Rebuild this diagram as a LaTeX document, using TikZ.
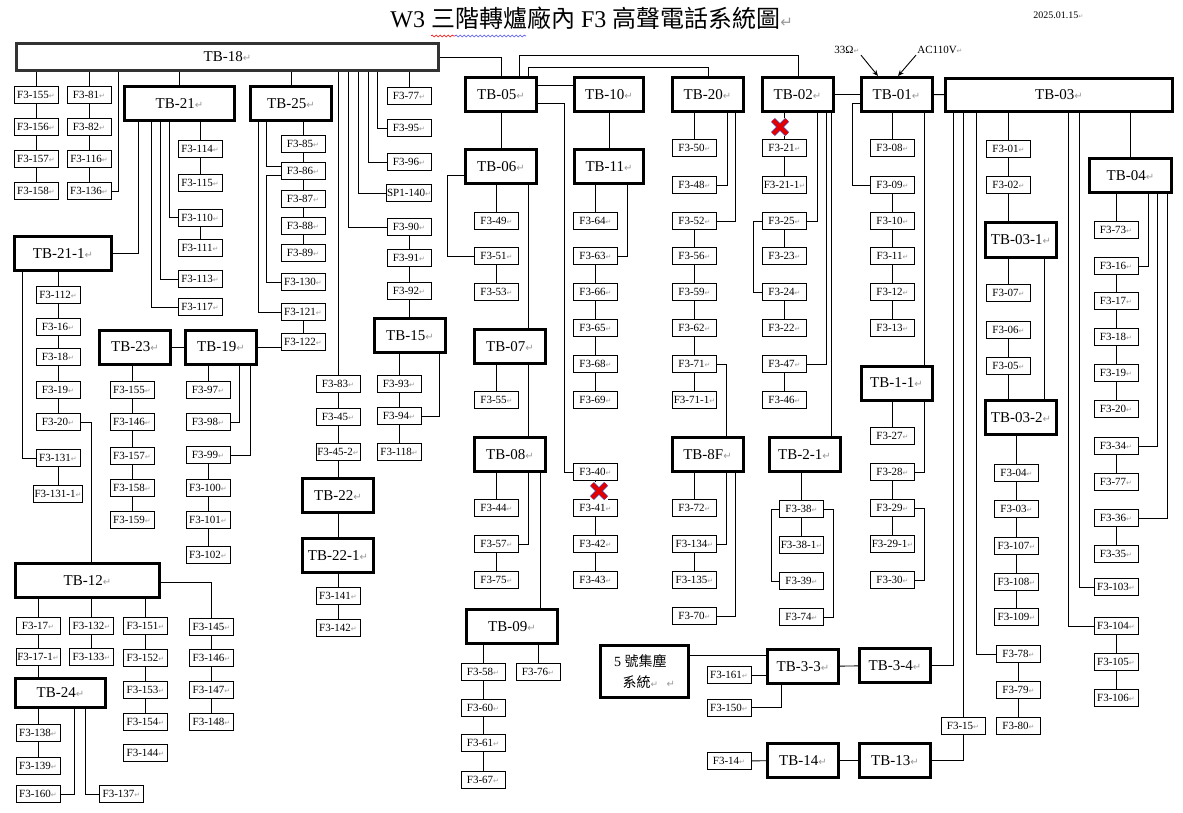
\documentclass[tikz,border=0pt]{standalone}
\usepackage{fontspec}
\setmainfont{Liberation Serif}
\newfontfamily\cjk{Noto Sans CJK TC}
\newfontfamily\symfont{DejaVu Sans}
\usetikzlibrary{arrows.meta,decorations.pathmorphing}
\newcommand\parmark[1]{{\symfont\fontsize{#1}{#1}\selectfont\color{gray!80}↵}}
\begin{document}
\begin{tikzpicture}[x=1pt, y=-1pt, line width=0.9pt,
  fbox/.style={draw, line width=0.8pt, minimum width=44pt, minimum height=17pt, inner sep=1pt,
    font=\fontsize{11}{11}\selectfont, execute at end node={\parmark{7pt}}},
  tb/.style={draw, line width=3pt, minimum width=71pt, minimum height=34pt, inner sep=1pt,
    font=\fontsize{15}{15}\selectfont, execute at end node={\parmark{10pt}}},
  lbl/.style={inner sep=1pt, font=\fontsize{11}{11}\selectfont, execute at end node={\parmark{7pt}}},
  xout/.style={line width=4pt, red!90!black}]
  \useasboundingbox (0,0) rectangle (1183,813);
  % 標題
  \node[anchor=west, inner sep=0pt, font=\fontsize{24}{24}\selectfont] (title) at (390,18)
    {W3 {\cjk 三階轉爐廠內} F3 {\cjk 高聲電話系統圖}\parmark{15pt}};
  \node[anchor=west, inner sep=0pt, font=\fontsize{10}{10}\selectfont] (date) at (1033,15) {2025.01.15\parmark{6pt}};
  \draw[red, line width=0.6pt, decorate, decoration={snake, amplitude=1pt, segment length=4pt}] (431,36) -- (455,36);
  \draw[blue!70, line width=0.6pt, decorate, decoration={snake, amplitude=1pt, segment length=4pt}] (455,36) -- (526,36);
  % 端子台
  \node[tb, draw=black!80, minimum width=422pt, minimum height=27pt] (tb18) at (227.5,57) {TB-18};
  \node[tb, minimum width=110pt] (tb21) at (179.5,103.5) {TB-21};
  \node[tb, minimum width=81pt] (tb25) at (291,103.5) {TB-25};
  \node[tb, minimum width=97pt] (tb21x1) at (63,253.5) {TB-21-1};
  \node[tb] (tb23) at (135,347) {TB-23}; \node[tb] (tb19) at (221,347) {TB-19};
  \node[tb] (tb15) at (410,335.5) {TB-15};
  \node[tb] (tb22) at (338,495.5) {TB-22}; \node[tb] (tb22x1) at (338,555.5) {TB-22-1};
  \node[tb, minimum width=144pt] (tb12) at (87.5,580.5) {TB-12};
  \node[tb, minimum width=90pt, minimum height=29pt] (tb24) at (60.5,693) {TB-24};
  \node[tb] (tb05) at (501,94.5) {TB-05}; \node[tb] (tb06) at (501,167) {TB-06};
  \node[tb] (tb07) at (510,346.5) {TB-07}; \node[tb] (tb08) at (510,454.5) {TB-08};
  \node[tb, minimum width=91pt] (tb09) at (512,626.5) {TB-09};
  \node[tb, minimum width=69pt] (tb10) at (609,94.5) {TB-10}; \node[tb, minimum width=69pt] (tb11) at (609,167) {TB-11};
  \node[tb] (tb20) at (707.5,94.5) {TB-20}; \node[tb] (tb8f) at (707.5,454.5) {TB-8F};
  \node[tb] (tb02) at (797.5,94.5) {TB-02}; \node[tb] (tb2x1) at (804.5,454.5) {TB-2-1};
  \node[tb] (tb01) at (896.5,94.5) {TB-01}; \node[tb] (tb1x1) at (896.5,383) {TB-1-1};
  \node[tb, minimum width=227pt, minimum height=33pt] (tb03) at (1059,95) {TB-03};
  \node[tb, minimum width=82pt] (tb04) at (1130.5,175.5) {TB-04};
  \node[tb] (tb03x1) at (1021,240) {TB-03-1}; \node[tb] (tb03x2) at (1021,417.5) {TB-03-2};
  \node[tb] (tb3x3) at (803,666.5) {TB-3-3}; \node[tb] (tb3x4) at (895,665.5) {TB-3-4};
  \node[tb] (tb14) at (803,760.5) {TB-14}; \node[tb] (tb13) at (895,760.5) {TB-13};
  \node[tb, minimum width=88pt, minimum height=52pt, align=center, execute at end node={},
    font=\fontsize{14}{21}\selectfont] (dust) at (644.5,671.5) {5 {\cjk 號集塵}\\{\cjk 系統}\parmark{9pt}};
  % TB-18 下
  \node[fbox] (f155) at (36,94.5) {F3-155}; \node[fbox] (f156) at (36,126.5) {F3-156};
  \node[fbox] (f157) at (36,159) {F3-157}; \node[fbox] (f158) at (36,191) {F3-158};
  \node[fbox] (f81) at (89,94.5) {F3-81}; \node[fbox] (f82) at (89,126.5) {F3-82};
  \node[fbox] (f116) at (89,159) {F3-116}; \node[fbox] (f136) at (89,191) {F3-136};
  \node[fbox] (f114) at (200,149) {F3-114}; \node[fbox] (f115) at (200,183) {F3-115};
  \node[fbox] (f110) at (200,217.5) {F3-110}; \node[fbox] (f111) at (200,248) {F3-111};
  \node[fbox] (f113) at (200,279) {F3-113}; \node[fbox] (f117) at (200,307) {F3-117};
  \node[fbox] (f85) at (303,144) {F3-85}; \node[fbox] (f86) at (303,171) {F3-86};
  \node[fbox] (f87) at (303,199) {F3-87}; \node[fbox] (f88) at (303,226) {F3-88};
  \node[fbox] (f89) at (303,253) {F3-89}; \node[fbox] (f130) at (303,282) {F3-130};
  \node[fbox] (f121) at (303,312) {F3-121}; \node[fbox] (f122) at (303,342) {F3-122};
  \node[fbox] (f77) at (409,96) {F3-77}; \node[fbox] (f95) at (409,128) {F3-95};
  \node[fbox] (f96) at (409,162) {F3-96}; \node[fbox] (sp140) at (409,193) {SP1-140};
  \node[fbox] (f90) at (409,227) {F3-90}; \node[fbox] (f91) at (409,258) {F3-91};
  \node[fbox] (f92) at (409,291) {F3-92};
  \node[fbox] (f93) at (399,384) {F3-93}; \node[fbox] (f94) at (399,416) {F3-94};
  \node[fbox] (f118) at (399,452) {F3-118};
  \node[fbox] (f83) at (338,383.5) {F3-83}; \node[fbox] (f45) at (338,417) {F3-45};
  \node[fbox] (f452) at (338,452) {F3-45-2};
  \node[fbox] (f141) at (338,596) {F3-141}; \node[fbox] (f142) at (338,628) {F3-142};
  % TB-21-1, TB-23, TB-19
  \node[fbox] (f112) at (58,295) {F3-112}; \node[fbox] (f16) at (58,327) {F3-16};
  \node[fbox] (f18) at (58,357) {F3-18}; \node[fbox] (f19) at (58,390) {F3-19};
  \node[fbox] (f20) at (58,422) {F3-20}; \node[fbox] (f131) at (58,458) {F3-131};
  \node[fbox] (f1311) at (58,494) {F3-131-1};
  \node[fbox] (f155b) at (132,390) {F3-155}; \node[fbox] (f146) at (132,422) {F3-146};
  \node[fbox] (f157b) at (132,456) {F3-157}; \node[fbox] (f158b) at (132,488) {F3-158};
  \node[fbox] (f159) at (132,520) {F3-159};
  \node[fbox] (f97) at (208,390) {F3-97}; \node[fbox] (f98) at (208,422) {F3-98};
  \node[fbox] (f99) at (208,455) {F3-99}; \node[fbox] (f100) at (208,488) {F3-100};
  \node[fbox] (f101) at (208,520) {F3-101}; \node[fbox] (f102) at (208,555) {F3-102};
  % TB-12, TB-24
  \node[fbox] (f17) at (38,626) {F3-17}; \node[fbox] (f171) at (38,657) {F3-17-1};
  \node[fbox] (f132) at (91.5,626) {F3-132}; \node[fbox] (f133) at (91.5,657) {F3-133};
  \node[fbox] (f151) at (145.5,626) {F3-151}; \node[fbox] (f152) at (145.5,658) {F3-152};
  \node[fbox] (f153) at (145.5,690) {F3-153}; \node[fbox] (f154) at (145.5,722) {F3-154};
  \node[fbox] (f144) at (145.5,753) {F3-144};
  \node[fbox] (f145) at (211.5,627) {F3-145}; \node[fbox] (f146b) at (211.5,658) {F3-146};
  \node[fbox] (f147) at (211.5,690) {F3-147}; \node[fbox] (f148) at (211.5,722) {F3-148};
  \node[fbox] (f138) at (38,733) {F3-138}; \node[fbox] (f139) at (38,766) {F3-139};
  \node[fbox] (f160) at (38,794) {F3-160}; \node[fbox] (f137) at (121.5,794) {F3-137};
  % TB-05 .. TB-09
  \node[fbox] (f49) at (496.5,221) {F3-49}; \node[fbox] (f51) at (496.5,256) {F3-51};
  \node[fbox] (f53) at (496.5,292) {F3-53}; \node[fbox] (f55) at (496.5,400) {F3-55};
  \node[fbox] (f44) at (496.5,508) {F3-44}; \node[fbox] (f57) at (496.5,544) {F3-57};
  \node[fbox] (f75) at (496.5,580) {F3-75};
  \node[fbox] (f58) at (483,671.5) {F3-58}; \node[fbox] (f76) at (538,671.5) {F3-76};
  \node[fbox] (f60) at (483,707.5) {F3-60}; \node[fbox] (f61) at (483,743) {F3-61};
  \node[fbox] (f67) at (483,779.5) {F3-67};
  % TB-10, TB-11
  \node[fbox] (f64) at (595.5,221) {F3-64}; \node[fbox] (f63) at (595.5,256) {F3-63};
  \node[fbox] (f66) at (595.5,292) {F3-66}; \node[fbox] (f65) at (595.5,328) {F3-65};
  \node[fbox] (f68) at (595.5,364) {F3-68}; \node[fbox] (f69) at (595.5,400) {F3-69};
  \node[fbox] (f40) at (595.5,472) {F3-40}; \node[fbox] (f41) at (595.5,508) {F3-41};
  \node[fbox] (f42) at (595.5,544) {F3-42}; \node[fbox] (f43) at (595.5,580) {F3-43};
  % TB-20, TB-8F
  \node[fbox] (f50) at (694.5,148) {F3-50}; \node[fbox] (f48) at (694.5,185) {F3-48};
  \node[fbox] (f52) at (694.5,221) {F3-52}; \node[fbox] (f56) at (694.5,256) {F3-56};
  \node[fbox] (f59) at (694.5,292) {F3-59}; \node[fbox] (f62) at (694.5,328) {F3-62};
  \node[fbox] (f71) at (694.5,364) {F3-71}; \node[fbox] (f711) at (694.5,400) {F3-71-1};
  \node[fbox] (f72) at (694.5,508) {F3-72}; \node[fbox] (f134) at (694.5,544) {F3-134};
  \node[fbox] (f135) at (694.5,580) {F3-135}; \node[fbox] (f70) at (694.5,616) {F3-70};
  % TB-02, TB-2-1
  \node[fbox] (f21) at (784.5,148) {F3-21}; \node[fbox] (f211) at (784.5,185) {F3-21-1};
  \node[fbox] (f25) at (784.5,221) {F3-25}; \node[fbox] (f23) at (784.5,256) {F3-23};
  \node[fbox] (f24) at (784.5,292) {F3-24}; \node[fbox] (f22) at (784.5,328) {F3-22};
  \node[fbox] (f47) at (784.5,364) {F3-47}; \node[fbox] (f46) at (784.5,400) {F3-46};
  \node[fbox] (f38) at (801.5,509) {F3-38}; \node[fbox] (f381) at (801.5,545) {F3-38-1};
  \node[fbox] (f39) at (801.5,581) {F3-39}; \node[fbox] (f74) at (801.5,617) {F3-74};
  \node[fbox] (f161) at (729,675) {F3-161}; \node[fbox] (f150) at (729,707.5) {F3-150};
  \node[fbox] (f14) at (729,761) {F3-14};
  % TB-01, TB-1-1
  \node[fbox] (f08) at (892.5,148) {F3-08}; \node[fbox] (f09) at (892.5,185) {F3-09};
  \node[fbox] (f10) at (892.5,221) {F3-10}; \node[fbox] (f11) at (892.5,256) {F3-11};
  \node[fbox] (f12) at (892.5,292) {F3-12}; \node[fbox] (f13) at (892.5,328) {F3-13};
  \node[fbox] (f27) at (892.5,436) {F3-27}; \node[fbox] (f28) at (892.5,472) {F3-28};
  \node[fbox] (f29) at (892.5,508) {F3-29}; \node[fbox] (f291) at (892.5,544) {F3-29-1};
  \node[fbox] (f30) at (892.5,580) {F3-30};
  \node[fbox] (f15) at (963,726) {F3-15};
  % TB-03, TB-04
  \node[fbox] (f01) at (1008.5,149) {F3-01}; \node[fbox] (f02) at (1008.5,185) {F3-02};
  \node[fbox] (f07) at (1008.5,293) {F3-07}; \node[fbox] (f06) at (1008.5,330) {F3-06};
  \node[fbox] (f05) at (1008.5,366) {F3-05};
  \node[fbox] (f04) at (1016.5,473) {F3-04}; \node[fbox] (f03) at (1016.5,509) {F3-03};
  \node[fbox] (f107) at (1016.5,546) {F3-107}; \node[fbox] (f108) at (1016.5,582) {F3-108};
  \node[fbox] (f109) at (1016.5,617) {F3-109};
  \node[fbox] (f78) at (1018.5,654) {F3-78}; \node[fbox] (f79) at (1018.5,690) {F3-79};
  \node[fbox] (f80) at (1018.5,726) {F3-80};
  \node[fbox] (f73) at (1116,230) {F3-73}; \node[fbox] (f16b) at (1116,266) {F3-16};
  \node[fbox] (f17b) at (1116,301) {F3-17}; \node[fbox] (f18b) at (1116,337) {F3-18};
  \node[fbox] (f19b) at (1116,373) {F3-19}; \node[fbox] (f20b) at (1116,409) {F3-20};
  \node[fbox] (f34) at (1116,446) {F3-34}; \node[fbox] (f77b) at (1116,482) {F3-77};
  \node[fbox] (f36) at (1116,518) {F3-36}; \node[fbox] (f35) at (1116,554) {F3-35};
  \node[fbox] (f103) at (1116,587) {F3-103}; \node[fbox] (f104) at (1116,626) {F3-104};
  \node[fbox] (f105) at (1116,662) {F3-105}; \node[fbox] (f106) at (1116,698) {F3-106};
  \node[lbl] (ohm) at (847,50) {33Ω}; \node[lbl] (ac) at (940,50) {AC110V};
  % 連線 TB-18
  \draw (f155) -- (f155 |- tb18.south); \draw (f155) -- (f156) -- (f157) -- (f158);
  \draw (f81) -- (f81 |- tb18.south); \draw (f81) -- (f82) -- (f116) -- (f136);
  \draw (118,0 |- tb18.south) |- (f136);
  \draw (tb21) -- (tb21 |- tb18.south); \draw (tb25) -- (tb25 |- tb18.south);
  \draw (f83) -- (f83 |- tb18.south);
  \draw (348,0 |- tb18.south) |- (f90); \draw (358,0 |- tb18.south) |- (sp140);
  \draw (368,0 |- tb18.south) |- (f96); \draw (377,0 |- tb18.south) |- (f95);
  \draw (f77) -- (f77 |- tb18.south);
  \draw (f90) -- (f91) -- (f92) -- (f92 |- tb15.north);
  \draw (tb18) -| (tb05);
  % TB-21, TB-25
  \draw (138,0 |- tb21.south) |- (tb21x1); \draw (151,0 |- tb21.south) |- (f117);
  \draw (160,0 |- tb21.south) |- (f113); \draw (169,0 |- tb21.south) |- (f110);
  \draw (f114) -- (f114 |- tb21.south); \draw (f114) -- (f115); \draw (f110) -- (f111);
  \draw (258,0 |- tb25.south) |- (f121);
  \draw (266,0 |- tb25.south) |- (f86.west |- 0,166);
  \draw (f86.west |- 0,175) -- (266,175) |- (f130);
  \draw (f85) -- (f85 |- tb25.south); \draw (f85) -- (f86) -- (f87) -- (f88) -- (f89);
  \draw (f121) -- (f122); \draw (tb19.east) -- (tb19.east -| f122.west);
  % TB-21-1, TB-23, TB-19, TB-15, TB-22
  \draw (f112) -- (f112 |- tb21x1.south); \draw (f112) -- (f16) -- (f18) -- (f19) -- (f20);
  \draw (22,0 |- tb21x1.south) |- (f131); \draw (f131) -- (f1311);
  \draw (f20) -| (tb12.north -| 91,0);
  \draw (tb23) -- (tb19);
  \draw (f155b) -- (f155b |- tb23.south); \draw (f155b) -- (f146) -- (f157b) -- (f158b) -- (f159);
  \draw (f97) -- (f97 |- tb19.south);
  \draw (239,0 |- tb19.south) |- (f98); \draw (250,0 |- tb19.south) |- (f99);
  \draw (f99) -- (f100) -- (f101) -- (f102);
  \draw (f93) -- (f93 |- tb15.south); \draw (439,0 |- tb15.south) |- (f94);
  \draw (f93) -- (f94) -- (f118);
  \draw (f83) -- (f45) -- (f452) -- (tb22) -- (tb22x1) -- (f141) -- (f142);
  % TB-12, TB-24
  \draw (f17) -- (f17 |- tb12.south); \draw (f132) -- (f132 |- tb12.south);
  \draw (f151) -- (f151 |- tb12.south); \draw (tb12.east |- 0,582) -| (f145);
  \draw (f17) -- (f171) -- (f171 |- tb24.north); \draw (f132) -- (f133);
  \draw (f151) -- (f152) -- (f153) -- (f154); \draw (f145) -- (f146b) -- (f147) -- (f148);
  \draw (f138) -- (f138 |- tb24.south); \draw (f138) -- (f139);
  \draw (74,0 |- tb24.south) |- (f160); \draw (85,0 |- tb24.south) |- (f137);
  % TB-05 .. TB-09
  \draw (tb05) -- (tb06); \draw (f49) -- (f49 |- tb06.south);
  \draw (tb06.west |- 0,175) -- (447,175) |- (f51); \draw (f51) -- (f53);
  \draw (tb06.south -| 528,0) -- (tb07.north -| 528,0); \draw (f55) -- (f55 |- tb07.south);
  \draw (tb07.south -| 528,0) -- (tb08.north -| 528,0); \draw (f44) -- (f44 |- tb08.south);
  \draw (tb08.south -| 528,0) |- (f57); \draw (f57) -- (f75);
  \draw (tb08.south -| 540,0) -- (tb09.north -| 540,0);
  \draw (f58) -- (f58 |- tb09.south); \draw (f76) -- (f76 |- tb09.south);
  \draw (f58) -- (f60) -- (f61) -- (f67);
  \draw (tb05.east |- 0,85) -- (tb10.west |- 0,85);
  \draw (tb05.east |- 0,103) -- (564,103) |- (f40);
  \draw (tb05.north -| 519,0) |- (798,55) -- (tb02.north -| 798,0);
  \draw (tb05.north -| 528,0) |- (708,67) -- (tb20.north -| 708,0);
  % TB-10, TB-11
  \draw (tb10) -- (tb11); \draw (f64) -- (f64 |- tb11.south);
  \draw (627,0 |- tb11.south) |- (f63); \draw (f63) -- (f66) -- (f65) -- (f68) -- (f69);
  \draw (f40) -- (f41) -- (f42) -- (f43);
  % TB-20, TB-8F
  \draw (f50) -- (f50 |- tb20.south);
  \draw (727,0 |- tb20.south) |- (f48); \draw (735,0 |- tb20.south) |- (f52);
  \draw (f52) -- (f56) -- (f59) -- (f62) -- (f71) -- (f711);
  \draw (f71) -| (tb8f.north -| 726,0);
  \draw (f72) -- (f72 |- tb8f.south);
  \draw (726,0 |- tb8f.south) |- (f134); \draw (735,0 |- tb8f.south) |- (f70);
  \draw (f134) -- (f135);
  % TB-02, TB-2-1
  \draw (f21) -- (f21 |- tb02.south); \draw (f21) -- (f211);
  \draw (817,0 |- tb02.south) |- (f25); \draw (f25) -- (753,0 |- f25) |- (f24);
  \draw (f25) -- (f23); \draw (f24) -- (f22);
  \draw (826,0 |- tb02.south) |- (f47); \draw (f47) -- (f46);
  \draw (tb02.south -| 831,0) -- (tb2x1.north -| 831,0);
  \draw (tb02) -- (tb01);
  \draw (f38) -- (f38 |- tb2x1.south); \draw (f38) -- (f381);
  \draw (f38) -- (771,0 |- f38) |- (f39); \draw (f38) -- (833,0 |- f38) |- (f74);
  % TB-01, TB-1-1
  \draw[-{Stealth[length=6pt,width=5pt]}] (ohm.south east) -- (tb01.north -| 878,0);
  \draw[-{Stealth[length=6pt,width=5pt]}] (ac.south west) -- (tb01.north -| 898,0);
  \draw (tb01) -- (tb03);
  \draw (f08) -- (f08 |- tb01.south);
  \draw (tb01.west |- 0,103) -- (852,103) |- (f09);
  \draw (f09) -- (f10) -- (f11) -- (f12) -- (f13);
  \draw (tb01.south -| 924,0) -- (tb1x1.north -| 924,0);
  \draw (f27) -- (f27 |- tb1x1.south); \draw (924,0 |- tb1x1.south) |- (f28);
  \draw (f28) -- (f29) -- (f291); \draw (f29) -- (924,0 |- f29) |- (f30);
  % TB-03, TB-04
  \draw (953,0 |- tb03.south) |- (tb3x4);
  \draw (f15) -- (f15 |- tb03.south); \draw (f15) |- (tb13);
  \draw (976,0 |- tb03.south) |- (f78); \draw (f78) -- (f79) -- (f80);
  \draw (f01) -- (f01 |- tb03.south); \draw (f01) -- (f02) -- (f02 |- tb03x1.north);
  \draw (f07) -- (f07 |- tb03x1.south); \draw (f06) -- (f05) -- (f05 |- tb03x2.north);
  \draw (tb03x1.south -| 1044,0) -- (tb03x2.north -| 1044,0);
  \draw (f04) -- (f04 |- tb03x2.south); \draw (f04) -- (f03) -- (f107) -- (f108) -- (f109);
  \draw (1068,0 |- tb03.south) |- (f104); \draw (f104) -- (f105) -- (f106);
  \draw (1079,0 |- tb03.south) |- (f103);
  \draw (tb04) -- (tb04 |- tb03.south);
  \draw (f73) -- (f73 |- tb04.south);
  \draw (1148,0 |- tb04.south) |- (f16b); \draw (f16b) -- (f17b) -- (f18b) -- (f19b) -- (f20b);
  \draw (1157,0 |- tb04.south) |- (f34); \draw (f34) -- (f77b);
  \draw (1167,0 |- tb04.south) |- (f36); \draw (f36) -- (f35);
  % 下方
  \draw (tb3x3) -- (tb3x4);
  \draw (dust.east |- 0,655) -- (tb3x3.west |- 0,655);
  \draw (f161) -- (f161 -| tb3x3.west);
  \draw (781,0 |- tb3x3.south) |- (f150);
  \draw (f14) -- (tb14) -- (tb13);
  % 停用標記
  \foreach \cx/\cy in {780/127, 599/491} {
    \fill[white] (\cx-9,\cy-9) rectangle (\cx+9,\cy+9);
    \draw[line width=5.4pt, blue!45!gray] (\cx-7,\cy-7) -- (\cx+7,\cy+7) (\cx-7,\cy+7) -- (\cx+7,\cy-7);
    \draw[xout] (\cx-7,\cy-7) -- (\cx+7,\cy+7) (\cx-7,\cy+7) -- (\cx+7,\cy-7);
  }
\end{tikzpicture}
\end{document}
